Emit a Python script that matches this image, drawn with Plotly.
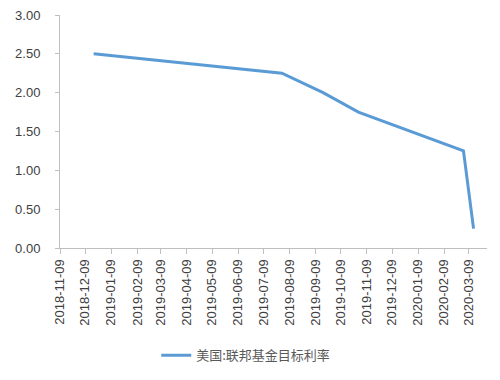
import plotly.graph_objects as go

dates = ["2018-12-19", "2019-07-31", "2019-09-18", "2019-10-30", "2020-03-03", "2020-03-15"]
rates = [2.50, 2.25, 2.00, 1.75, 1.25, 0.25]
tick_dates = ["2018-11-09", "2018-12-09", "2019-01-09", "2019-02-09", "2019-03-09", "2019-04-09",
              "2019-05-09", "2019-06-09", "2019-07-09", "2019-08-09", "2019-09-09", "2019-10-09",
              "2019-11-09", "2019-12-09", "2020-01-09", "2020-02-09", "2020-03-09"]
y_ticks = [0, 0.5, 1.0, 1.5, 2.0, 2.5, 3.0]
series_name = "美国:联邦基金目标利率"

fig = go.Figure()
fig.add_trace(go.Scatter(x=dates, y=rates, mode="lines", name=series_name,
                         line=dict(color="#5b9bd5", width=3)))

fig.update_layout(
    width=492, height=372,
    margin=dict(l=52, r=13, t=7, b=132, autoexpand=False),
    paper_bgcolor="white", plot_bgcolor="white",
    font=dict(family="Liberation Sans, Arial", size=13, color="#404040"),
    showlegend=True,
    legend=dict(orientation="h", x=0.435, xanchor="center", y=-0.46, yanchor="middle",
                font=dict(family="Noto Sans CJK SC", size=13, color="#595959")),
    xaxis=dict(type="date", range=["2018-11-09", "2020-03-31"], automargin=False,
               tickmode="array", tickvals=tick_dates, ticktext=tick_dates,
               tickangle=-90, ticks="outside", ticklen=5, tickcolor="#bfbfbf",
               showline=True, linecolor="#bfbfbf", linewidth=1,
               showgrid=False, zeroline=False, ticklabeloverflow="allow"),
    yaxis=dict(range=[0, 3], tickmode="array", tickvals=y_ticks, automargin=False,
               ticktext=[f"{v:.2f}" for v in y_ticks],
               ticks="outside", ticklen=4, tickcolor="#bfbfbf",
               showline=True, linecolor="#bfbfbf", linewidth=1,
               showgrid=False, zeroline=False, ticklabelstandoff=12,
               ticklabeloverflow="allow"),
)

fig.write_html("out.html")
